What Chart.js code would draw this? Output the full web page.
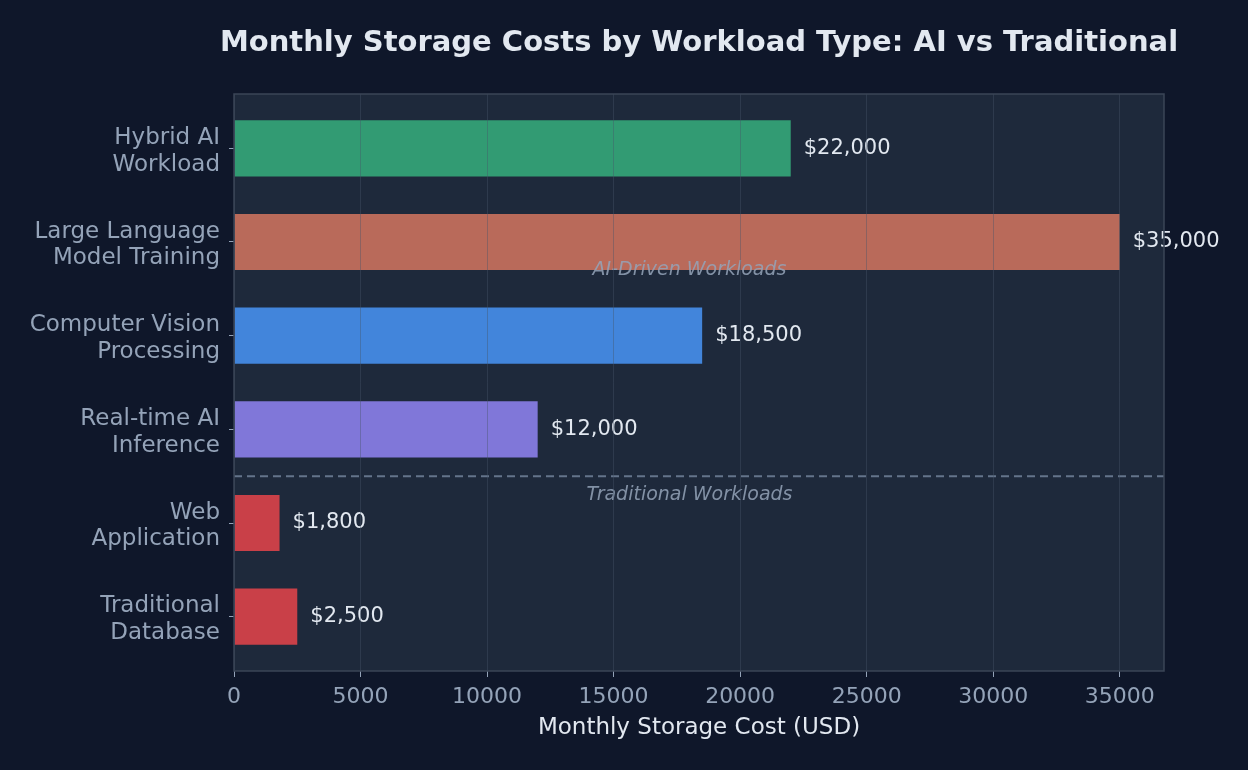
<!DOCTYPE html>
<html>
<head>
<meta charset="utf-8">
<script src="https://cdn.jsdelivr.net/npm/chart.js@4.4.1/dist/chart.umd.min.js"></script>
<style>
  html, body { margin: 0; padding: 0; background: #0f172a; }
  #wrap { width: 1248px; height: 770px; position: relative; }
</style>
</head>
<body>
<div id="wrap"><canvas id="storageChart"></canvas></div>
<script>
// Workload categories, top to bottom
const categories = [
  ['Hybrid AI', 'Workload'],
  ['Large Language', 'Model Training'],
  ['Computer Vision', 'Processing'],
  ['Real-time AI', 'Inference'],
  ['Web', 'Application'],
  ['Traditional', 'Database']
];
// Monthly cost in USD
const costs = [22000, 35000, 18500, 12000, 1800, 2500];
const barColors = ['#329b73', '#b96a5a', '#4285db', '#8077d9', '#c94048', '#c94048'];
const xTicks = [0, 5000, 10000, 15000, 20000, 25000, 30000, 35000];
const sections = [
  { text: 'AI-Driven Workloads', x: 18000, y: 1.3 },
  { text: 'Traditional Workloads', x: 18000, y: 3.7 }
];
const dividerAt = 3.5;

const FONT = 'DejaVu Sans';

// plot background, border, title, divider and labels
const decorations = {
  id: 'decorations',
  beforeDraw(chart) {
    const { ctx, chartArea: a } = chart;
    ctx.save();
    ctx.fillStyle = '#1e293b';
    ctx.fillRect(a.left, a.top, a.right - a.left, a.bottom - a.top);
    ctx.restore();
  },
  afterDatasetsDraw(chart) {
    const { ctx, chartArea: a, scales } = chart;
    ctx.save();
    // value labels
    ctx.font = '21px "' + FONT + '"';
    ctx.fillStyle = '#e2e8f0';
    ctx.textAlign = 'left';
    ctx.textBaseline = 'middle';
    chart.getDatasetMeta(0).data.forEach((bar, i) => {
      ctx.fillText('$' + costs[i].toLocaleString('en-US'), bar.x + 13, bar.y);
    });
    // divider between AI and traditional
    const yd = scales.y.getPixelForValue(dividerAt);
    ctx.strokeStyle = '#64748b';
    ctx.lineWidth = 2;
    ctx.setLineDash([8, 5]);
    ctx.beginPath();
    ctx.moveTo(a.left, yd);
    ctx.lineTo(a.right, yd);
    ctx.stroke();
    ctx.setLineDash([]);
    // section captions
    ctx.font = 'italic 19px "' + FONT + '"';
    ctx.fillStyle = 'rgba(148,163,184,0.85)';
    ctx.textAlign = 'center';
    sections.forEach(s => {
      ctx.fillText(s.text, scales.x.getPixelForValue(s.x), scales.y.getPixelForValue(s.y));
    });
    ctx.restore();
  },
  afterDraw(chart) {
    const { ctx, chartArea: a } = chart;
    ctx.save();
    ctx.strokeStyle = '#3b4657';
    ctx.lineWidth = 1.5;
    ctx.strokeRect(a.left, a.top, a.right - a.left, a.bottom - a.top);
    // title centred over the plot
    ctx.font = 'bold 29px "' + FONT + '"';
    ctx.fillStyle = '#e2e8f0';
    ctx.textAlign = 'center';
    ctx.textBaseline = 'middle';
    ctx.fillText('Monthly Storage Costs by Workload Type: AI vs Traditional', (a.left + a.right) / 2, 43);
    ctx.restore();
  }
};

const ctx = document.getElementById('storageChart').getContext('2d');
new Chart(ctx, {
  type: 'bar',
  data: {
    datasets: [{
      data: costs.map((c, i) => ({ x: c, y: i })),
      backgroundColor: barColors,
      borderWidth: 0,
      barPercentage: 0.6,
      categoryPercentage: 1
    }]
  },
  options: {
    indexAxis: 'y',
    responsive: true,
    maintainAspectRatio: false,
    animation: false,
    layout: { padding: { top: 94, right: 84, bottom: 22, left: 0 } },
    plugins: {
      legend: { display: false },
      tooltip: { enabled: false }
    },
    scales: {
      x: {
        type: 'linear',
        min: 0,
        max: 36750,
        afterBuildTicks: s => { s.ticks = xTicks.map(v => ({ value: v })); },
        afterFit: s => { s.height = 77; },
        border: { display: false },
        grid: {
          z: 1,
          color: 'rgba(71,85,105,0.4)',
          tickColor: '#94a3b8',
          tickLength: 6
        },
        ticks: {
          color: '#94a3b8',
          font: { family: FONT, size: 22 },
          padding: 7,
          callback: v => String(v)
        },
        title: {
          display: true,
          text: 'Monthly Storage Cost (USD)',
          color: '#e2e8f0',
          font: { family: FONT, size: 23 },
          padding: { top: 2, bottom: 6 }
        }
      },
      y: {
        type: 'linear',
        reverse: true,
        offset: false,
        min: -0.58,
        max: 5.58,
        afterBuildTicks: s => { s.ticks = categories.map((c, i) => ({ value: i })); },
        afterFit: s => { s.width = 234; },
        border: { display: false },
        grid: {
          offset: false,
          drawOnChartArea: false,
          tickColor: '#94a3b8',
          tickLength: 5
        },
        ticks: {
          color: '#94a3b8',
          font: { family: FONT, size: 23, lineHeight: 1.15 },
          padding: 9,
          labelOffset: 3,
          callback: v => categories[v] || ''
        }
      }
    }
  },
  plugins: [decorations]
});
</script>
</body>
</html>
